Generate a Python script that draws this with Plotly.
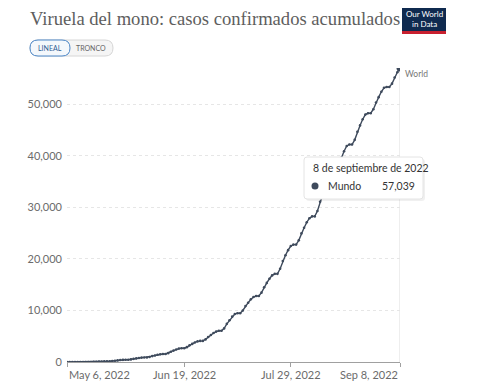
import plotly.graph_objects as go
import pandas as pd

# ---- data ----
start_date = "2022-05-06"
cases = [
    1, 1, 1, 2, 4, 5, 7, 8,
    14, 14, 30, 58, 81, 103, 120,
    135, 135, 180, 255, 315, 375, 420,
    441, 441, 506, 614, 700, 786, 850,
    883, 883, 980, 1143, 1273, 1403, 1500,
    1555, 1555, 1720, 1995, 2215, 2435, 2600,
    2670, 2670, 2880, 3230, 3510, 3790, 4000,
    4095, 4095, 4380, 4855, 5235, 5615, 5900,
    6055, 6055, 6520, 7400, 8100, 8800, 9300,
    9470, 9470, 10000, 10850, 11500, 12150, 12600,
    12800, 12800, 13450, 14500, 15350, 16150, 16800,
    17100, 17100, 18100, 19600, 20700, 21700, 22500,
    22780, 22780, 23600, 24950, 26050, 27100, 27900,
    28250, 28250, 29300, 31100, 32500, 33950, 35000,
    35340, 35340, 36400, 38200, 39600, 40900, 41900,
    42200, 42200, 43100, 44650, 45900, 47100, 48000,
    48260, 48260, 49040, 50340, 51380, 52420, 53200,
    53350, 53350, 54000, 55200, 56200, 57039,
]
dates = pd.date_range(start_date, periods=len(cases), freq="D")
series_name = "World"
tooltip_name = "Mundo"
tooltip_date = "8 de septiembre de 2022"
tooltip_value = "57,039"

title_text = "Viruela del mono: casos confirmados acumulados"
x_tick_dates = ["2022-05-06", "2022-06-19", "2022-07-29", "2022-09-08"]
x_tick_labels = ["May 6, 2022", "Jun 19, 2022", "Jul 29, 2022", "Sep 8, 2022"]
y_tick_vals = [0, 10000, 20000, 30000, 40000, 50000]
y_tick_labels = ["0", "10,000", "20,000", "30,000", "40,000", "50,000"]

LINE = "#3e4a5c"
GRAY = "#6b6b6b"

# page has an 8px body margin; figure is sized/offset to compensate
W, H, OFF = 472, 376, 8

fig = go.Figure()
fig.add_trace(go.Scatter(
    x=dates, y=cases, mode="lines+markers",
    line=dict(color=LINE, width=1.4),
    marker=dict(color=LINE, size=2.6),
    name=series_name, hoverinfo="skip",
))
fig.add_trace(go.Scatter(
    x=[dates[-1]], y=[cases[-1]], mode="markers",
    marker=dict(color=LINE, size=7), hoverinfo="skip",
))

PW, PH = 333.0, 294.0


def px2paper(px, py):
    return (px - 67) / PW, (362 - py) / PH


def rrect(x0, y0, x1, y1, r):
    ax0, ay0 = px2paper(x0, y1)
    ax1, ay1 = px2paper(x1, y0)
    rx, ry = r / PW, r / PH
    return (f"M{ax0+rx},{ay0} L{ax1-rx},{ay0} Q{ax1},{ay0} {ax1},{ay0+ry} "
            f"L{ax1},{ay1-ry} Q{ax1},{ay1} {ax1-rx},{ay1} L{ax0+rx},{ay1} "
            f"Q{ax0},{ay1} {ax0},{ay1-ry} L{ax0},{ay0+ry} Q{ax0},{ay0} {ax0+rx},{ay0} Z")


shapes = []
annotations = []

# hover vertical line
shapes.append(dict(type="line", xref="x", yref="paper", x0=dates[-1], x1=dates[-1],
                   y0=0, y1=1, line=dict(color="#dcdcdc", width=1), layer="below"))

# tooltip box
shapes.append(dict(type="path", xref="paper", yref="paper", path=rrect(306, 159, 425, 201, 3),
                   fillcolor="rgba(0,0,0,0.06)", line=dict(width=0)))
shapes.append(dict(type="path", xref="paper", yref="paper", path=rrect(304, 157, 423, 199, 3),
                   fillcolor="white", line=dict(color="#e4e4e4", width=1)))
x, y = px2paper(311, 168)
annotations.append(dict(x=x, y=y, xref="paper", yref="paper", text=tooltip_date,
                        showarrow=False, xanchor="left", yanchor="middle",
                        font=dict(family="Lato", size=10.5, color="#333")))
x, y = px2paper(315, 186)
shapes.append(dict(type="circle", xref="paper", yref="paper",
                   x0=x - 3.5 / PW, x1=x + 3.5 / PW, y0=y - 3.5 / PH, y1=y + 3.5 / PH,
                   fillcolor=LINE, line=dict(width=0)))
x, y = px2paper(326, 186)
annotations.append(dict(x=x, y=y, xref="paper", yref="paper", text=tooltip_name,
                        showarrow=False, xanchor="left", yanchor="middle",
                        font=dict(family="Lato", size=10.5, color="#333")))
x, y = px2paper(417, 186)
annotations.append(dict(x=x, y=y, xref="paper", yref="paper", text=tooltip_value,
                        showarrow=False, xanchor="right", yanchor="middle",
                        font=dict(family="Lato", size=10.5, color="#333")))

# series label
annotations.append(dict(x=dates[-1], y=cases[-1], xref="x", yref="y", text=series_name,
                        showarrow=False, xanchor="left", yanchor="top", xshift=3, yshift=1,
                        font=dict(family="Lato", size=8.5, color="#777")))

# x tick labels
anchors = ["left", "center", "center", "right"]
for d, t, a in zip(x_tick_dates, x_tick_labels, anchors):
    annotations.append(dict(x=d, y=0, xref="x", yref="paper", text=t, showarrow=False,
                            xanchor=a, yanchor="top", yshift=-4,
                            font=dict(family="Lato", size=11, color=GRAY)))

# logo
lx0, ly0 = px2paper(402, 34)
lx1, ly1 = px2paper(446, 7)
shapes.append(dict(type="rect", xref="paper", yref="paper", x0=lx0, x1=lx1, y0=ly0, y1=ly1,
                   fillcolor="#0f2a4f", line=dict(width=0)))
_, ry = px2paper(0, 31)
shapes.append(dict(type="rect", xref="paper", yref="paper", x0=lx0, x1=lx1, y0=ly0, y1=ry,
                   fillcolor="#c8202f", line=dict(width=0)))
x, y = px2paper(424, 19)
annotations.append(dict(x=x, y=y, xref="paper", yref="paper",
                        text="Our World<br>in Data", showarrow=False,
                        xanchor="center", yanchor="middle", align="center",
                        font=dict(family="Lato", size=8, color="white")))

# buttons
shapes.append(dict(type="path", xref="paper", yref="paper", path=rrect(30, 40, 113, 56, 8),
                   fillcolor="#f5f5f5", line=dict(color="#d6d6d6", width=1)))
shapes.append(dict(type="path", xref="paper", yref="paper", path=rrect(30, 40, 70, 56, 8),
                   fillcolor="#f4f8fc", line=dict(color="#4d87c7", width=1)))
x, y = px2paper(50, 48)
annotations.append(dict(x=x, y=y, xref="paper", yref="paper", text="LINEAL",
                        showarrow=False, xanchor="center", yanchor="middle",
                        font=dict(family="Lato", size=7, color="#2f5f94")))
x, y = px2paper(91, 48)
annotations.append(dict(x=x, y=y, xref="paper", yref="paper", text="TRONCO",
                        showarrow=False, xanchor="center", yanchor="middle",
                        font=dict(family="Lato", size=7, color="#666")))

fig.update_layout(
    width=W, height=H,
    margin=dict(l=67 - OFF, r=W - (400 - OFF), t=68 - OFF, b=H - (362 - OFF)),
    paper_bgcolor="white", plot_bgcolor="white",
    showlegend=False,
    title=dict(text=title_text, x=(30 - OFF) / W, xanchor="left",
               y=1 - (18 - OFF) / H, yanchor="middle",
               font=dict(family="Liberation Serif", size=18.6, color="#5e5e5e")),
    shapes=shapes, annotations=annotations,
    xaxis=dict(range=[dates[0], dates[-1]], showgrid=False, zeroline=False,
               showline=True, linecolor="#a0a0a0", linewidth=1,
               tickvals=x_tick_dates, ticks="outside", ticklen=4, tickcolor="#a0a0a0",
               showticklabels=False),
    yaxis=dict(range=[0, cases[-1]], tickvals=y_tick_vals, ticktext=y_tick_labels,
               showgrid=True, gridcolor="#e6e6e6", griddash="dot", zeroline=False,
               showline=False, ticks="", ticklabelstandoff=4,
               tickfont=dict(family="Lato", size=11, color=GRAY)),
)

fig.write_html("out.html")
